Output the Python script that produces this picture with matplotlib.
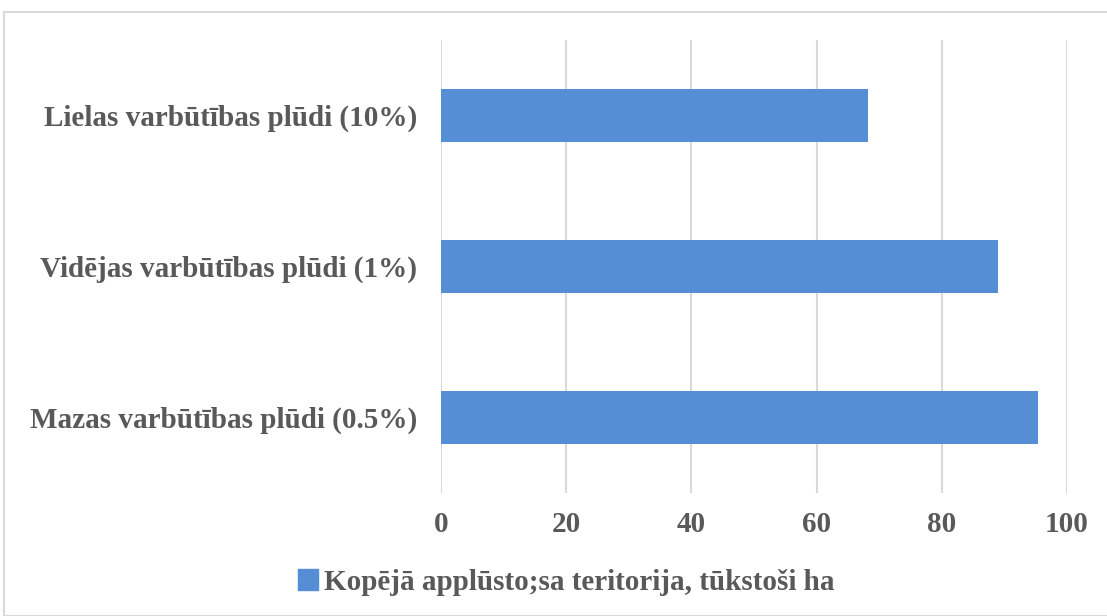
import matplotlib.pyplot as plt
from matplotlib.patches import Rectangle, Patch

categories = ["Mazas varbūtības plūdi (0.5%)",
              "Vidējas varbūtības plūdi (1%)",
              "Lielas varbūtības plūdi (10%)"]
values = [95.4, 89.0, 68.2]
xticks = [0, 20, 40, 60, 80, 100]
series_name = "Kopējā applūsto;sa teritorija, tūkstoši ha"

bar_color = "#558ED5"
text_color = "#595959"
grid_color = "#D9D9D9"

plt.rcParams['font.family'] = ['Liberation Serif', 'DejaVu Serif']
plt.rcParams['font.weight'] = 'bold'

fig = plt.figure(figsize=(11.07, 6.16), dpi=100)
ax = fig.add_axes([441/1107, 1 - 493/616, (1067 - 441)/1107, (493 - 40)/616])

ax.barh(range(len(categories)), values, height=0.35, color=bar_color, zorder=3)
ax.set_ylim(-0.5, 2.5)
ax.set_xlim(0, 100)
ax.set_xticks(xticks)
ax.set_yticks(range(len(categories)))
ax.set_yticklabels(categories)
ax.grid(axis='x', color=grid_color, linewidth=1.5, zorder=0)
ax.tick_params(length=0, labelsize=21, labelcolor=text_color)
ax.tick_params(axis='x', pad=13)
ax.tick_params(axis='y', pad=17)
for s in ax.spines.values():
    s.set_visible(False)

# chart frame
fig.patches.append(Rectangle((4/1107, 0), 1.1, 1 - 12/616, transform=fig.transFigure,
                             fill=False, edgecolor=grid_color, linewidth=1.5))

fig.legend(handles=[Patch(color=bar_color)], labels=[series_name],
           loc='center', bbox_to_anchor=(566/1107, 1 - 582/616), frameon=False,
           fontsize=21, labelcolor=text_color, handlelength=0.7, handleheight=0.7,
           handletextpad=0.2)

fig.savefig("out.png", dpi=100)
